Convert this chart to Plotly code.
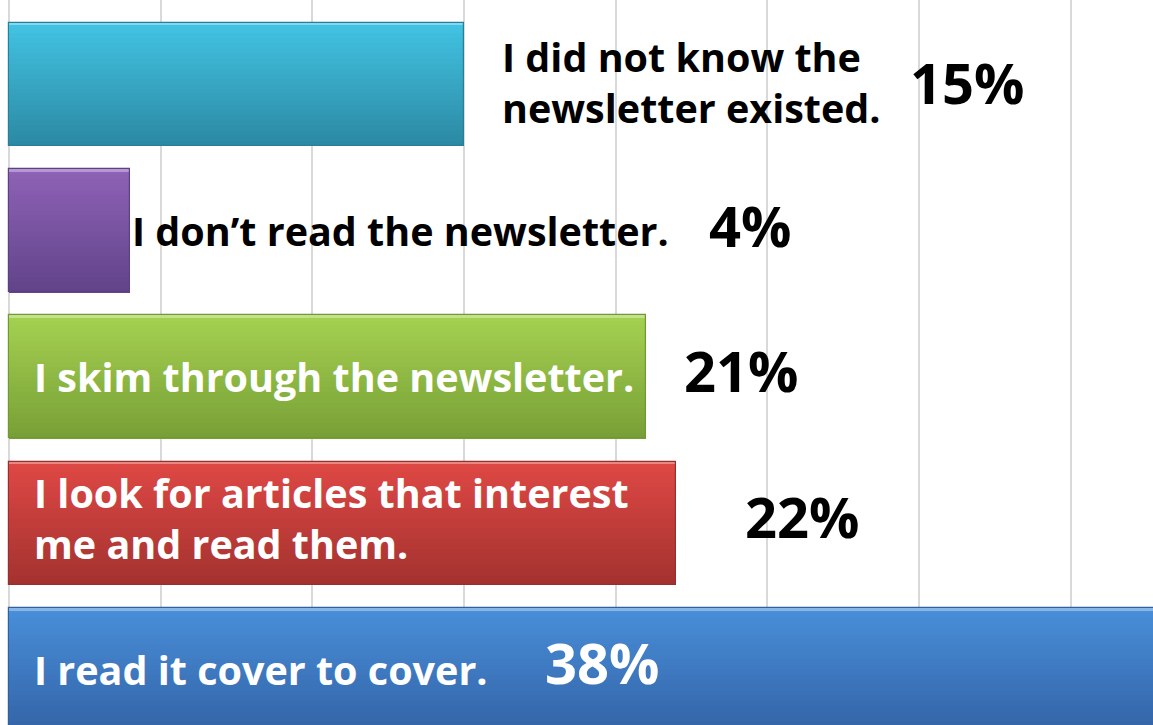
import plotly.graph_objects as go

# Survey: how readers use the newsletter (percent of respondents)
answers = [
    "I did not know the<br>newsletter existed.",
    "I don’t read the newsletter.",
    "I skim through the newsletter.",
    "I look for articles that interest<br>me and read them.",
    "I read it cover to cover.",
]
shares = [15, 4, 21, 22, 38]
share_labels = ["15%", "4%", "21%", "22%", "38%"]

# Bar styling: top and bottom shades of each bar's vertical gradient
top_colors = [(66, 194, 226), (142, 98, 182), (164, 208, 80), (222, 72, 68), (72, 142, 216)]
bottom_colors = [(44, 138, 164), (98, 68, 138), (120, 160, 54), (164, 50, 48), (52, 100, 168)]
edge_colors = ["#2a7f98", "#5c3f85", "#6f9a32", "#962f2d", "#30609f"]

# Text placement and colour for each row
answer_x = [16.2, 4.0, 0.76, 0.76, 0.76]
answer_dy = [-0.01, 0.0, 0.0, -0.035, 0.0]
answer_color = ["black", "black", "white", "white", "white"]
share_x = [29.65, 23.0, 22.2, 24.2, 17.6]
share_dy = [-0.014, -0.038, -0.048, -0.048, -0.055]
share_color = ["black", "black", "black", "black", "white"]

rows = list(range(len(shares)))
bar_w = 0.84
n_strips = 24

fig = go.Figure()

# Gradient fill built from thin overlapping bar strips
for k in range(n_strips):
    t = k / (n_strips - 1)
    cols = []
    for top, bot in zip(top_colors, bottom_colors):
        c = [round(a + (b - a) * t) for a, b in zip(top, bot)]
        cols.append(f"rgb({c[0]},{c[1]},{c[2]})")
    fig.add_trace(go.Bar(
        x=shares, y=rows, orientation="h",
        width=bar_w / n_strips + 0.004,
        offset=-bar_w / 2 + k * bar_w / n_strips,
        marker=dict(color=cols, line=dict(width=0)),
        hoverinfo="skip", showlegend=False,
    ))

# Light top highlight
fig.add_trace(go.Bar(
    x=shares, y=rows, orientation="h",
    width=0.018, offset=-bar_w / 2,
    marker=dict(color=["rgba(255,255,255,0.35)"] * len(shares), line=dict(width=0)),
    hoverinfo="skip", showlegend=False,
))

# Outline
fig.add_trace(go.Bar(
    x=shares, y=rows, orientation="h", width=bar_w,
    marker=dict(color="rgba(0,0,0,0)", line=dict(color=edge_colors, width=1.2)),
    hoverinfo="skip", showlegend=False,
))

font_family = "'Open Sans', Lato, sans-serif"
for i in rows:
    fig.add_annotation(
        x=answer_x[i], y=i + answer_dy[i], xref="x", yref="y",
        text=f"<b>{answers[i]}</b>",
        xanchor="left", yanchor="middle", align="left", showarrow=False,
        font=dict(family=font_family, size=39.5, color=answer_color[i]),
    )
    fig.add_annotation(
        x=share_x[i], y=i + share_dy[i], xref="x", yref="y", text=f"<b>{share_labels[i]}</b>",
        xanchor="left", yanchor="middle", showarrow=False,
        font=dict(family=font_family, size=56, color=share_color[i]),
    )

fig.update_layout(
    width=1153, height=725,
    margin=dict(l=0, r=0, t=0, b=0),
    barmode="overlay", bargap=0,
    paper_bgcolor="white", plot_bgcolor="white",
    xaxis=dict(range=[-0.297, 37.72], dtick=5, tick0=0, showgrid=True,
               gridcolor="#d9d9d9", gridwidth=2, zeroline=True,
               zerolinecolor="#d9d9d9", zerolinewidth=2,
               showticklabels=False, ticks=""),
    yaxis=dict(range=[4.378, -0.575], showgrid=False, zeroline=False,
               showticklabels=False, ticks=""),
)

fig.write_html("out.html")
